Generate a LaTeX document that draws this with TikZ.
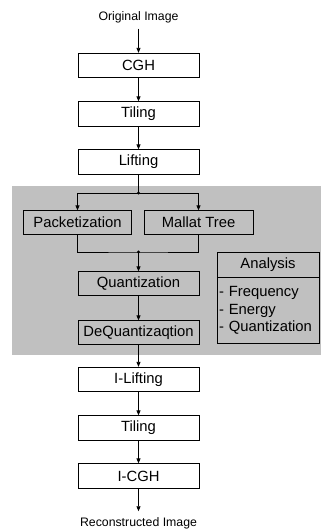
\documentclass[tikz,border=0pt]{standalone}
\usepackage{fontspec}
\setmainfont{Liberation Sans}
\usetikzlibrary{arrows.meta}
\definecolor{bggray}{RGB}{192,192,192}
\begin{document}
\begin{tikzpicture}[x=1pt,y=-1pt,
  box/.style={draw, line width=0.8pt, fill=white, minimum width=121pt, minimum height=24.5pt, inner sep=0pt, font=\fontsize{14.8}{17.5}\selectfont},
  ibox/.style={box, fill=bggray, minimum height=23.5pt},
  lbl/.style={font=\fontsize{12.3}{14}\selectfont, inner sep=0pt, outer ysep=6pt},
  arr/.style={-{Triangle[length=5pt,width=4pt]}, line width=0.8pt},
  link/.style={line width=0.8pt},
  dot/.style={circle, fill=black, inner sep=0pt, minimum size=3.2pt}]
\useasboundingbox (0,0) rectangle (323,530);
\fill[bggray] (12,186) rectangle (321,355);
\node[lbl] (orig) at (138.5,17) {Original Image};
\node[box] (cgh) at (138.5,65.5) {CGH};
\node[box] (til1) at (138.5,114) {Tiling};
\node[box] (lift) at (138.5,162) {Lifting};
\node[ibox, minimum width=108pt] (pk) at (77.5,222.5) {Packetization};
\node[ibox, minimum width=109pt] (mt) at (198.5,222.5) {Mallat Tree};
\node[ibox] (q) at (138.5,283.5) {Quantization};
\node[ibox] (dq) at (138.5,332.5) {DeQuantizaqtion};
\node[box] (il) at (138.5,379.5) {I-Lifting};
\node[box] (til2) at (138.5,428) {Tiling};
\node[box] (icgh) at (138.5,476) {I-CGH};
\node[lbl] (rec) at (138.5,523) {Reconstructed Image};
\node[ibox, minimum width=102pt, minimum height=25pt] (ah) at (268,264.5) {Analysis};
\node[ibox, minimum width=102pt, minimum height=66pt, anchor=north, align=left, text width=98pt] (ab) at (ah.south) {- Frequency\\- Energy\\- Quantization};
\draw[arr] (orig) -- (cgh);
\draw[arr] (cgh) -- (til1);
\draw[arr] (til1) -- (lift);
\coordinate (j1) at (138.5,193);
\coordinate (j2) at (138.5,252);
\draw[link] (lift) -- (j1);
\draw[arr] (j1) -| (pk);
\draw[arr] (j1) -| (mt);
\draw[link] (pk) |- (j2) -| (mt);
\draw[arr] (j2) -- (q);
\node[dot] (d1) at (j1) {};
\node[dot] (d2) at (j2) {};
\draw[arr] (q) -- (dq);
\draw[arr] (dq) -- (il);
\draw[arr] (il) -- (til2);
\draw[arr] (til2) -- (icgh);
\draw[arr] (icgh) -- (rec);
\end{tikzpicture}
\end{document}
